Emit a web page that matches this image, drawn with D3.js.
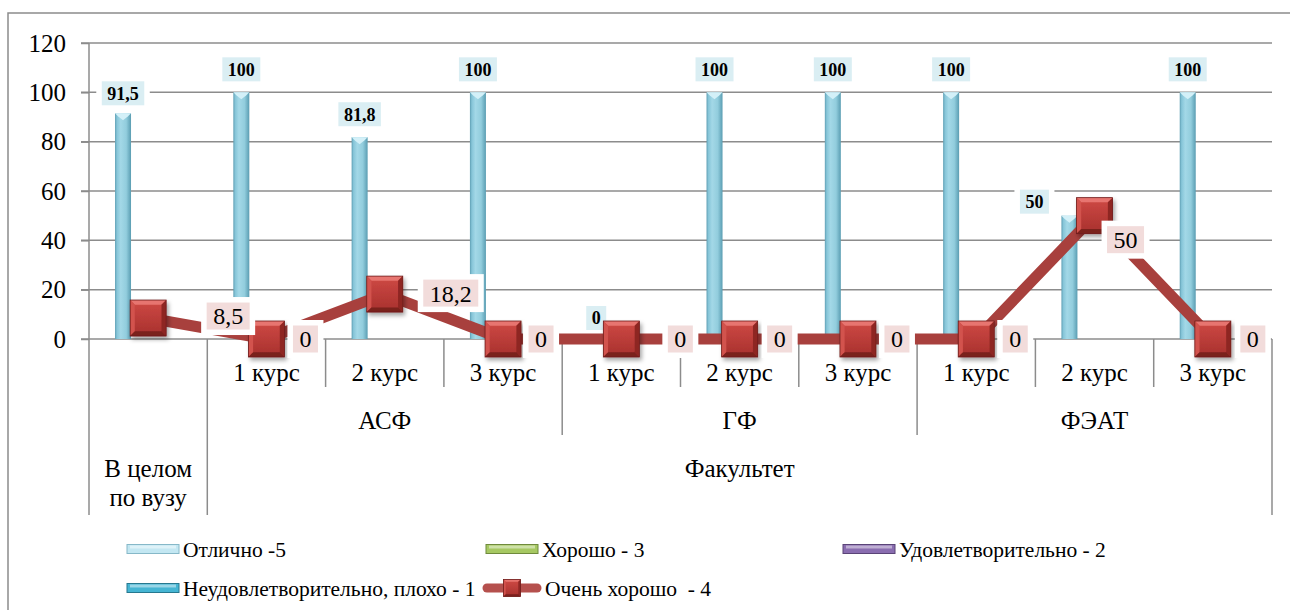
<!DOCTYPE html>
<html><head><meta charset="utf-8">
<script src="https://cdn.jsdelivr.net/npm/d3@7"></script>
<style>html,body{margin:0;padding:0;background:#fff;}svg{display:block;}
svg text{font-family:"Liberation Serif","Times New Roman","DejaVu Serif",serif;}</style>
</head><body>
<svg id="chart" width="1290" height="610"></svg>
<script>
// ---- data ----
const courses   = ["", "1 курс","2 курс","3 курс","1 курс","2 курс","3 курс","1 курс","2 курс","3 курс"];
const faculties = ["", "АСФ","АСФ","АСФ","ГФ","ГФ","ГФ","ФЭАТ","ФЭАТ","ФЭАТ"];
const groups    = ["В целом по вузу","Факультет","Факультет","Факультет","Факультет","Факультет","Факультет","Факультет","Факультет","Факультет"];
const seriesNames = ["Отлично -5","Хорошо - 3","Удовлетворительно - 2","Неудовлетворительно, плохо - 1"];
const excellent = [91.5, 100, 81.8, 100, 0, 100, 100, 100, 50, 100];
const good      = [0,0,0,0,0,0,0,0,0,0];
const satisf    = [0,0,0,0,0,0,0,0,0,0];
const unsatisf  = [0,0,0,0,0,0,0,0,0,0];
const lineName  = "Очень хорошо  - 4";
const veryGood  = [8.5, 0, 18.2, 0, 0, 0, 0, 0, 50, 0];
const yTicks    = [0,20,40,60,80,100,120];

// label placement tweaks (layout only)
const lineLabelDx = [80,39,66,38,59,40,39,39,31,40];
const lineLabelDy = [-2,0,-1,0,0,0,0,0,24,0];
const barLabelDx  = [0,0,0,0,0,0,0,0,-35,0];
const barLabelDy  = [-20,-23,-23,-23,-21,-23,-23,-23,-14,-23];

const fmt = v => String(v).replace(".", ",");

const svg = d3.select("#chart");
const defs = svg.append("defs");

const bg = defs.append("linearGradient").attr("id","barGrad").attr("x1","0").attr("x2","1").attr("y1","0").attr("y2","0");
[["0%","#5f9fb4"],["12%","#86c5d8"],["35%","#a3d8e7"],["70%","#92cddd"],["100%","#5a9db2"]].forEach(s=>bg.append("stop").attr("offset",s[0]).attr("stop-color",s[1]));
const mg = defs.append("linearGradient").attr("id","mkGrad").attr("x1","0").attr("x2","0").attr("y1","0").attr("y2","1");
[["0%","#cf4a45"],["100%","#a7302d"]].forEach(s=>mg.append("stop").attr("offset",s[0]).attr("stop-color",s[1]));
const sh = defs.append("filter").attr("id","shadow").attr("x","-30%").attr("y","-30%").attr("width","170%").attr("height","170%");
sh.append("feDropShadow").attr("dx",2).attr("dy",3).attr("stdDeviation",2).attr("flood-color","#000").attr("flood-opacity",0.35);

svg.append("path").attr("d","M8,610 L8,13 L1290,13").attr("fill","none").attr("stroke","#8c8c8c").attr("stroke-width",1.5);

const x = d3.scaleBand().domain(d3.range(courses.length)).range([89,1272]).padding(0);
const x1 = d3.scaleBand().domain(seriesNames).range([-33.5,33.5]).padding(0);
const y = d3.scaleLinear().domain([0,120]).range([339,43]);

svg.append("g").selectAll("line").data(yTicks).join("line")
  .attr("x1",81).attr("x2",1272).attr("y1",d=>y(d)).attr("y2",d=>y(d))
  .attr("stroke","#8c8c8c").attr("stroke-width",1.5);

const yAxis = svg.append("g").attr("transform","translate(89,0)")
  .call(d3.axisLeft(y).tickValues(yTicks).tickSize(8).tickPadding(15).tickFormat(d=>d));
yAxis.attr("font-family",null).attr("font-size",null);
yAxis.select(".domain").attr("stroke","#8c8c8c").attr("stroke-width",1.5).attr("d","M0,43V339");
yAxis.selectAll(".tick line").attr("stroke","#8c8c8c").attr("stroke-width",1.5);
yAxis.selectAll("text").style("font-size","25px").attr("fill","#000");

const ys = {l1:387, l2:435, l3:515};
for (let i=0;i<=courses.length;i++){
  let xb = i<courses.length ? x(i) : x(courses.length-1)+x.bandwidth();
  let depth;
  if (i===0 || i===courses.length || groups[i]!==groups[i-1]) depth = ys.l3;
  else if (faculties[i]!==faculties[i-1]) depth = ys.l2;
  else depth = ys.l1;
  svg.append("line").attr("x1",xb).attr("x2",xb).attr("y1",339).attr("y2",depth)
    .attr("stroke","#8c8c8c").attr("stroke-width",1.5);
}

svg.append("g").selectAll("text").data(courses.map((c,i)=>({c,i})).filter(d=>d.c)).join("text")
  .attr("x",d=>x(d.i)+x.bandwidth()/2).attr("y",372).attr("dy","0.35em")
  .attr("text-anchor","middle").style("font-size","25px").text(d=>d.c);

function spans(arr){
  const out=[]; let s=0;
  for(let i=1;i<=arr.length;i++){
    if(i===arr.length || arr[i]!==arr[s]){ out.push({label:arr[s],start:s,end:i-1}); s=i; }
  }
  return out;
}
const spanX = d => (x(d.start)+x(d.end)+x.bandwidth())/2;
const spanW = d => x(d.end)+x.bandwidth()-x(d.start);

svg.append("g").selectAll("text").data(spans(faculties).filter(d=>d.label)).join("text")
  .attr("x",spanX).attr("y",420).attr("dy","0.35em")
  .attr("text-anchor","middle").style("font-size","25px").text(d=>d.label);

spans(groups).forEach(d=>{
  const t = svg.append("text").attr("x",spanX(d)).attr("y",468)
    .attr("text-anchor","middle").style("font-size","25px");
  const words = d.label.split(" ");
  let lines=[], cur=[];
  const probe = svg.append("text").style("font-size","25px");
  words.forEach(w=>{
    const test = cur.concat([w]).join(" ");
    probe.text(test);
    if (probe.node().getComputedTextLength() > spanW(d)-14 && cur.length){ lines.push(cur.join(" ")); cur=[w]; }
    else cur.push(w);
  });
  lines.push(cur.join(" "));
  probe.remove();
  lines.forEach((ln,k)=>t.append("tspan").attr("x",spanX(d)).attr("dy",k===0?"0.35em":"1.16em").text(ln));
});

const seriesVals = [excellent, good, satisf, unsatisf];
const barsG = svg.append("g");
seriesNames.forEach((s,si)=>{
  seriesVals[si].forEach((v,i)=>{
    if (v<=0) return;
    const cx = x(i)+x.bandwidth()/2 + x1(s) + x1.bandwidth()/2;
    const bw = 16, top = y(v);
    const g = barsG.append("g");
    g.append("rect").attr("x",cx-bw/2).attr("y",top).attr("width",bw).attr("height",y(0)-top)
      .attr("fill","url(#barGrad)");
    g.append("path").attr("d",`M${cx-bw/2},${top} L${cx+bw/2},${top} L${cx+bw/2-3},${top+3} L${cx},${top+7} L${cx-bw/2+3},${top+3}Z`)
      .attr("fill","#d3f0f8");
  });
});

const blG = svg.append("g");
excellent.forEach((v,i)=>{
  const cx = x(i)+x.bandwidth()/2 + x1(seriesNames[0]) + x1.bandwidth()/2 + barLabelDx[i];
  const cy = y(v) + barLabelDy[i];
  const g = blG.append("g");
  const t = g.append("text").attr("x",cx).attr("y",cy).attr("dy","0.35em").attr("text-anchor","middle")
    .style("font-size","18px").style("font-weight","bold").text(fmt(v));
  const w = t.node().getComputedTextLength();
  g.insert("rect","text").attr("x",cx-w/2-11).attr("y",cy-17).attr("width",w+22).attr("height",34).attr("fill","#fff");
  g.insert("rect","text").attr("x",cx-w/2-5.5).attr("y",cy-12).attr("width",w+11).attr("height",24).attr("fill","#daeef3");
});

const lineColor = "#a8403d";
const pts = veryGood.map((v,i)=>[x(i)+x.bandwidth()/2, y(v)]);
svg.append("path").attr("d", d3.line()(pts)).attr("fill","none").attr("stroke",lineColor)
  .attr("stroke-width",11).attr("stroke-linejoin","round");

function marker(g, cx, cy, s, shadow){
  const h=s/2, b=s*0.13;
  const m = g.append("g");
  if (shadow) m.attr("filter","url(#shadow)");
  m.append("rect").attr("x",cx-h).attr("y",cy-h).attr("width",s).attr("height",s).attr("fill","url(#mkGrad)");
  m.append("path").attr("d",`M${cx-h},${cy-h}L${cx+h},${cy-h}L${cx+h-b},${cy-h+b}L${cx-h+b},${cy-h+b}Z`).attr("fill","#e7746f");
  m.append("path").attr("d",`M${cx-h},${cy-h}L${cx-h+b},${cy-h+b}L${cx-h+b},${cy+h-b}L${cx-h},${cy+h}Z`).attr("fill","#d2524d");
  m.append("path").attr("d",`M${cx+h},${cy-h}L${cx+h},${cy+h}L${cx+h-b},${cy+h-b}L${cx+h-b},${cy-h+b}Z`).attr("fill","#8e2724");
  m.append("path").attr("d",`M${cx-h},${cy+h}L${cx+h},${cy+h}L${cx+h-b},${cy+h-b}L${cx-h+b},${cy+h-b}Z`).attr("fill","#7a201e");
  m.append("rect").attr("x",cx-h).attr("y",cy-h).attr("width",s).attr("height",s).attr("fill","none").attr("stroke","#6e1d1b").attr("stroke-width",0.8);
}
const mkG = svg.append("g");
pts.forEach(p=>marker(mkG,p[0],p[1],36,true));

const llG = svg.append("g");
veryGood.forEach((v,i)=>{
  const cx = pts[i][0] + lineLabelDx[i], cy = pts[i][1] + lineLabelDy[i];
  const g = llG.append("g");
  const t = g.append("text").attr("x",cx).attr("y",cy).attr("dy","0.35em").attr("text-anchor","middle")
    .style("font-size","24px").text(fmt(v));
  const w = t.node().getComputedTextLength();
  g.insert("rect","text").attr("x",cx-w/2-12).attr("y",cy-19).attr("width",w+24).attr("height",38).attr("fill","#fff");
  g.insert("rect","text").attr("x",cx-w/2-6.5).attr("y",cy-13.5).attr("width",w+13).attr("height",27).attr("fill","#f2dcdb");
});

const legendItems = [
  {name:seriesNames[0], type:"bar", fill:"#c3e7f2", stroke:"#86b8c8", x:127, y:549},
  {name:seriesNames[1], type:"bar", fill:"#a6c862", stroke:"#6f8a3c", x:486, y:549},
  {name:seriesNames[2], type:"bar", fill:"#8a6db0", stroke:"#5a4477", x:843, y:549},
  {name:seriesNames[3], type:"bar", fill:"#45b5d3", stroke:"#26788f", x:127, y:588},
  {name:lineName,       type:"line", x:482, y:588}
];
const lg = svg.append("g");
legendItems.forEach(d=>{
  if (d.type==="bar"){
    lg.append("rect").attr("x",d.x).attr("y",d.y-4.5).attr("width",52).attr("height",9)
      .attr("fill",d.fill).attr("stroke",d.stroke).attr("stroke-width",1);
    lg.append("rect").attr("x",d.x+3).attr("y",d.y-3.5).attr("width",46).attr("height",3)
      .attr("fill","#fff").attr("opacity",0.45);
    lg.append("text").attr("x",d.x+56).attr("y",d.y).attr("dy","0.35em")
      .style("font-size","21.5px").text(d.name);
  } else {
    lg.append("line").attr("x1",d.x+5).attr("x2",d.x+55).attr("y1",d.y).attr("y2",d.y)
      .attr("stroke","#b5504d").attr("stroke-width",9).attr("stroke-linecap","round");
    marker(lg, d.x+30, d.y, 17, false);
    lg.append("text").attr("x",d.x+63).attr("y",d.y).attr("dy","0.35em")
      .style("font-size","21.5px").style("white-space","pre").text(d.name);
  }
});
</script>
</body></html>
